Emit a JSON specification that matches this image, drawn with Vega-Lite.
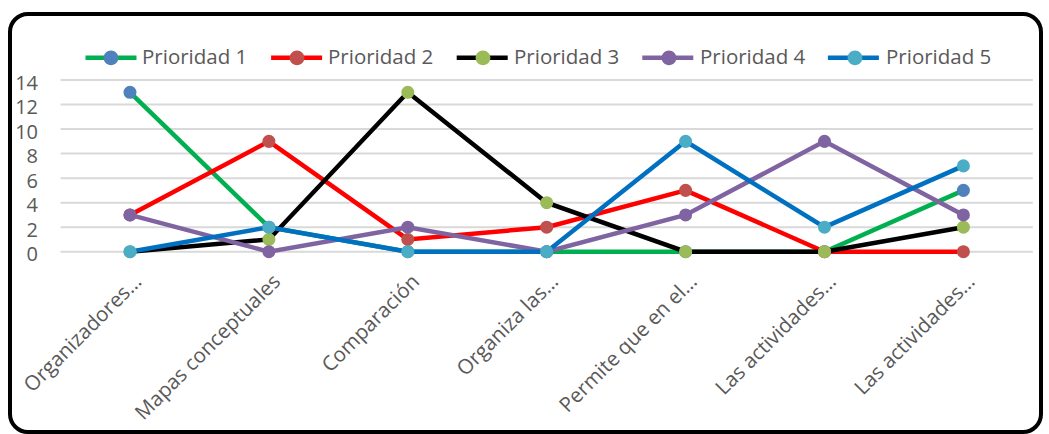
{
  "$schema": "https://vega.github.io/schema/vega-lite/v6.json",
  "width": 1031,
  "height": 418,
  "autosize": {"type": "none"},
  "padding": {"left": 10, "top": 14, "right": 8, "bottom": 2},
  "background": "#ffffff",
  "config": {
    "view": {"stroke": "#000000", "strokeWidth": 4, "cornerRadius": 18},
    "font": "Open Sans"
  },
  "datasets": {
    "prioridades": [
      {"idx": 0, "categoria": "Organizadores…", "serie": "Prioridad 1", "valor": 13},
      {"idx": 1, "categoria": "Mapas conceptuales", "serie": "Prioridad 1", "valor": 2},
      {"idx": 2, "categoria": "Comparación", "serie": "Prioridad 1", "valor": 0},
      {"idx": 3, "categoria": "Organiza las…", "serie": "Prioridad 1", "valor": 0},
      {"idx": 4, "categoria": "Permite que en el…", "serie": "Prioridad 1", "valor": 0},
      {"idx": 5, "categoria": "Las actividades…", "serie": "Prioridad 1", "valor": 0},
      {"idx": 6, "categoria": "Las actividades…", "serie": "Prioridad 1", "valor": 5},
      {"idx": 0, "categoria": "Organizadores…", "serie": "Prioridad 2", "valor": 3},
      {"idx": 1, "categoria": "Mapas conceptuales", "serie": "Prioridad 2", "valor": 9},
      {"idx": 2, "categoria": "Comparación", "serie": "Prioridad 2", "valor": 1},
      {"idx": 3, "categoria": "Organiza las…", "serie": "Prioridad 2", "valor": 2},
      {"idx": 4, "categoria": "Permite que en el…", "serie": "Prioridad 2", "valor": 5},
      {"idx": 5, "categoria": "Las actividades…", "serie": "Prioridad 2", "valor": 0},
      {"idx": 6, "categoria": "Las actividades…", "serie": "Prioridad 2", "valor": 0},
      {"idx": 0, "categoria": "Organizadores…", "serie": "Prioridad 3", "valor": 0},
      {"idx": 1, "categoria": "Mapas conceptuales", "serie": "Prioridad 3", "valor": 1},
      {"idx": 2, "categoria": "Comparación", "serie": "Prioridad 3", "valor": 13},
      {"idx": 3, "categoria": "Organiza las…", "serie": "Prioridad 3", "valor": 4},
      {"idx": 4, "categoria": "Permite que en el…", "serie": "Prioridad 3", "valor": 0},
      {"idx": 5, "categoria": "Las actividades…", "serie": "Prioridad 3", "valor": 0},
      {"idx": 6, "categoria": "Las actividades…", "serie": "Prioridad 3", "valor": 2},
      {"idx": 0, "categoria": "Organizadores…", "serie": "Prioridad 4", "valor": 3},
      {"idx": 1, "categoria": "Mapas conceptuales", "serie": "Prioridad 4", "valor": 0},
      {"idx": 2, "categoria": "Comparación", "serie": "Prioridad 4", "valor": 2},
      {"idx": 3, "categoria": "Organiza las…", "serie": "Prioridad 4", "valor": 0},
      {"idx": 4, "categoria": "Permite que en el…", "serie": "Prioridad 4", "valor": 3},
      {"idx": 5, "categoria": "Las actividades…", "serie": "Prioridad 4", "valor": 9},
      {"idx": 6, "categoria": "Las actividades…", "serie": "Prioridad 4", "valor": 3},
      {"idx": 0, "categoria": "Organizadores…", "serie": "Prioridad 5", "valor": 0},
      {"idx": 1, "categoria": "Mapas conceptuales", "serie": "Prioridad 5", "valor": 2},
      {"idx": 2, "categoria": "Comparación", "serie": "Prioridad 5", "valor": 0},
      {"idx": 3, "categoria": "Organiza las…", "serie": "Prioridad 5", "valor": 0},
      {"idx": 4, "categoria": "Permite que en el…", "serie": "Prioridad 5", "valor": 9},
      {"idx": 5, "categoria": "Las actividades…", "serie": "Prioridad 5", "valor": 2},
      {"idx": 6, "categoria": "Las actividades…", "serie": "Prioridad 5", "valor": 7}
    ],
    "categorias": [
      {"idx": 0, "categoria": "Organizadores…"},
      {"idx": 1, "categoria": "Mapas conceptuales"},
      {"idx": 2, "categoria": "Comparación"},
      {"idx": 3, "categoria": "Organiza las…"},
      {"idx": 4, "categoria": "Permite que en el…"},
      {"idx": 5, "categoria": "Las actividades…"},
      {"idx": 6, "categoria": "Las actividades…"}
    ],
    "rejilla": [
      {"t": 0}, {"t": 2}, {"t": 4}, {"t": 6}, {"t": 8}, {"t": 10}, {"t": 12}, {"t": 14}
    ]
  },
  "layer": [
    {
      "data": {"name": "rejilla"},
      "mark": {"type": "rule", "color": "#d9d9d9", "strokeWidth": 2},
      "encoding": {
        "y": {
          "field": "t", "type": "quantitative", "axis": null,
          "scale": {"domain": [-14.71, 19.39], "nice": false, "zero": false}
        },
        "x": {
          "datum": -0.5, "type": "quantitative", "axis": null,
          "scale": {"domain": [-0.8639, 6.5587], "nice": false, "zero": false}
        },
        "x2": {"datum": 6.5}
      }
    },
    {
      "data": {"name": "rejilla"},
      "mark": {"type": "text", "align": "right", "baseline": "middle", "dy": 3.5, "font": "Open Sans", "fontSize": 20, "color": "#595959"},
      "encoding": {
        "y": {"field": "t", "type": "quantitative", "axis": null},
        "x": {"datum": -0.6623, "type": "quantitative", "axis": null},
        "text": {"field": "t", "type": "quantitative"}
      }
    },
    {
      "data": {"name": "categorias"},
      "mark": {"type": "text", "align": "right", "baseline": "top", "angle": 315, "dx": 2, "font": "Open Sans", "fontSize": 20.5, "color": "#595959"},
      "encoding": {
        "x": {"field": "idx", "type": "quantitative", "axis": null},
        "y": {"datum": -1.74, "type": "quantitative", "axis": null},
        "text": {"field": "categoria", "type": "nominal"}
      }
    },
    {
      "data": {"name": "prioridades"},
      "mark": {"type": "line", "strokeWidth": 4.5},
      "encoding": {
        "x": {"field": "idx", "type": "quantitative", "axis": null},
        "y": {"field": "valor", "type": "quantitative", "axis": null},
        "stroke": {
          "field": "serie", "type": "nominal",
          "scale": {"range": ["#00B050", "#FF0000", "#000000", "#8064A2", "#0070C0"]},
          "legend": {
            "orient": "none", "legendX": 73, "legendY": 15.5, "direction": "horizontal", "columns": 5,
            "symbolType": "M-1,0L1,0", "symbolSize": 2601, "symbolStrokeWidth": 4.5,
            "labelOffset": 3, "columnPadding": 115.6, "padding": 0, "title": null,
            "labelExpr": "''",
            "labelFont": "Open Sans", "labelFontSize": 20.5, "labelColor": "#595959",
            "zindex": 1
          }
        }
      }
    },
    {
      "data": {"name": "prioridades"},
      "mark": {"type": "circle", "size": 170, "opacity": 1},
      "encoding": {
        "x": {"field": "idx", "type": "quantitative", "axis": null},
        "y": {"field": "valor", "type": "quantitative", "axis": null},
        "fill": {
          "field": "serie", "type": "nominal",
          "scale": {
            "domain": ["Prioridad 1", "Prioridad 2", "Prioridad 3", "Prioridad 4", "Prioridad 5"],
            "range": ["#4F81BD", "#C0504D", "#9BBB59", "#8064A2", "#4BACC6"]
          },
          "legend": {
            "orient": "none", "legendX": 73, "legendY": 15.5, "direction": "horizontal", "columns": 5,
            "symbolType": "M-1,0L1,0M0.29,0A0.29,0.29 0 1,1 -0.29,0A0.29,0.29 0 1,1 0.29,0Z", "symbolSize": 2601,
            "symbolStrokeWidth": 4.5, "symbolStrokeColor": "transparent", "symbolOpacity": 1,
            "labelOffset": 3, "columnPadding": 14, "padding": 0, "title": null,
            "labelFont": "Open Sans", "labelFontSize": 20.5, "labelColor": "#595959",
            "zindex": 2
          }
        }
      }
    }
  ]
}
